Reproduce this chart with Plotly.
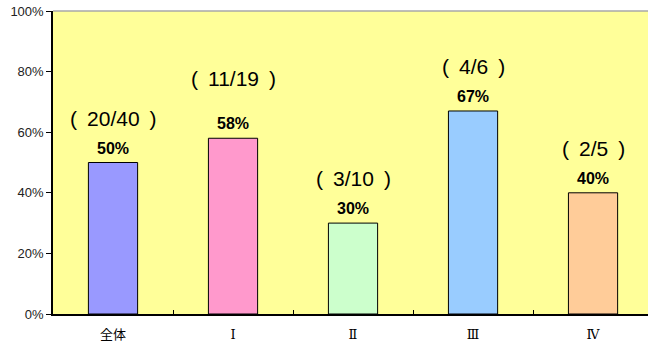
import plotly.graph_objects as go

categories = ["全体", "Ⅰ", "Ⅱ", "Ⅲ", "Ⅳ"]
rates = [50, 58, 30, 67, 40]
fractions = ["( 20/40 )", "( 11/19 )", "( 3/10 )", "( 4/6 )", "( 2/5 )"]
colors = ["#9999FF", "#FF99CC", "#CCFFCC", "#99CCFF", "#FFCC99"]
y_ticks = [0, 20, 40, 60, 80, 100]
y_tick_labels = ["0%", "20%", "40%", "60%", "80%", "100%"]

font_jp = "Noto Sans CJK JP"

fig = go.Figure()
fig.add_trace(go.Bar(
    x=categories, y=rates, width=0.41,
    marker=dict(color=colors, line=dict(color="black", width=1)),
    hoverinfo="skip",
))

for i, (c, v) in enumerate(zip(categories, rates)):
    fig.add_annotation(x=c, y=v, text=f"<b>{v}%</b>", showarrow=False,
                       yanchor="bottom", yshift=4,
                       font=dict(family="Liberation Sans", size=16, color="black"))
    extra = 15 if i == 1 else 0
    fig.add_annotation(x=c, y=v, text=fractions[i].replace(" ", "\u2009 "), showarrow=False,
                       yanchor="bottom", yshift=31 + extra,
                       font=dict(family="Liberation Sans", size=21, color="black"))

fig.add_shape(type="line", xref="paper", yref="paper", x0=0, x1=1, y0=1, y1=1,
              line=dict(color="#A8A8A8", width=1.5))

fig.update_layout(
    width=648, height=345,
    margin=dict(l=53, r=0, t=11, b=31),
    paper_bgcolor="white", plot_bgcolor="#FFFF99",
    showlegend=False, bargap=0.59,
    font=dict(family=font_jp, color="black"),
    xaxis=dict(range=[-0.5, 4.458], showline=True, linecolor="black", linewidth=1.5,
               ticks="inside", tickson="boundaries", ticklen=4, tickcolor="black",
               showgrid=False, ticklabelstandoff=8,
               tickfont=dict(size=13, family="DejaVu Serif, Noto Sans CJK JP"), fixedrange=True),
    yaxis=dict(range=[0, 100], tickvals=y_ticks, ticktext=y_tick_labels,
               showline=True, linecolor="black", linewidth=1.5,
               ticks="outside", ticklen=5, tickcolor="black",
               showgrid=False, zeroline=False,
               tickfont=dict(size=13, family="Liberation Sans", color="#222222"), fixedrange=True),
)

fig.write_html("out.html", config={"displayModeBar": False})
